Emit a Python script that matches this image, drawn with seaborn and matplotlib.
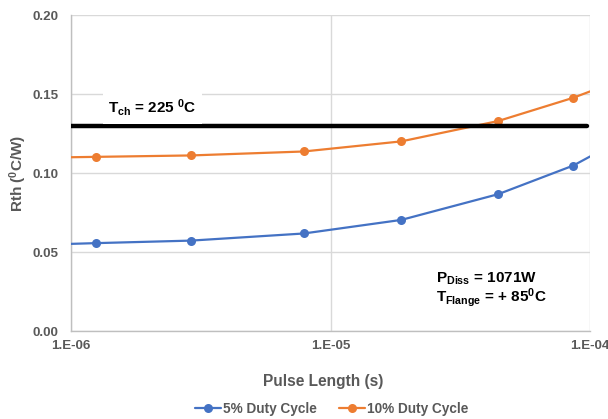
import pandas as pd
import matplotlib
matplotlib.use("Agg")
import matplotlib.pyplot as plt
import seaborn as sns

# pulse lengths (s); first and last points lie just outside the visible axis range
pulse = [5.3e-7, 1.245e-6, 2.90e-6, 7.88e-6, 1.874e-5, 4.43e-5, 8.62e-5, 2.0e-4]
rth_5 = [0.0540, 0.0558, 0.0574, 0.0619, 0.0705, 0.0868, 0.1049, 0.1373]
rth_10 = [0.1095, 0.1104, 0.1113, 0.1138, 0.1202, 0.1331, 0.1478, 0.1705]
series_names = ["5% Duty Cycle", "10% Duty Cycle"]
series_colors = ["#4472C4", "#ED7D31"]
t_channel_limit = 0.13

y_ticks = [0.00, 0.05, 0.10, 0.15, 0.20]
x_ticks = [1e-6, 1e-5, 1e-4]
x_tick_labels = ["1.E-06", "1.E-05", "1.E-04"]

df = pd.DataFrame({
    "pulse": pulse * 2,
    "rth": rth_5 + rth_10,
    "series": [series_names[0]] * len(pulse) + [series_names[1]] * len(pulse),
})

sns.set_theme(style="white")
plt.rcParams["font.family"] = ["Liberation Sans", "DejaVu Sans"]
plt.rcParams["mathtext.fontset"] = "custom"
plt.rcParams["mathtext.rm"] = "Liberation Sans:bold"
plt.rcParams["mathtext.it"] = "Liberation Sans:bold"
plt.rcParams["mathtext.bf"] = "Liberation Sans:bold"

gray = "#595959"
fig = plt.figure(figsize=(6.08, 4.19), dpi=100)
ax = fig.add_axes([0.1168, 0.2093, 0.8536, 0.7542])

sns.lineplot(data=df, x="pulse", y="rth", hue="series", hue_order=series_names,
             palette=series_colors, marker="o", markersize=6.5, markeredgewidth=0,
             linewidth=1.6, ax=ax, zorder=3)

ax.set_xscale("log")
ax.set_xlim(1e-6, 1e-4)
ax.set_ylim(0, 0.20)
ax.set_yticks(y_ticks)
ax.set_yticklabels([f"{v:.2f}" for v in y_ticks])
ax.set_xticks(x_ticks)
ax.set_xticklabels(x_tick_labels)
ax.minorticks_off()
ax.tick_params(length=0, labelsize=9.6, labelcolor=gray)
ax.tick_params(axis="y", pad=9)
ax.tick_params(axis="x", pad=6.5)
for lab in ax.get_xticklabels() + ax.get_yticklabels():
    lab.set_fontweight("bold")

ax.grid(True, color="#D9D9D9", linewidth=1.0)
for side in ["top", "right"]:
    ax.spines[side].set_visible(False)
for side in ["left", "bottom"]:
    ax.spines[side].set_color("#BFBFBF")
    ax.spines[side].set_linewidth(1.0)

ax.set_xlabel("Pulse Length (s)", fontsize=11.2, fontweight="bold", color=gray)
ax.xaxis.set_label_coords(0.4855, -0.135)
ax.set_ylabel(r"Rth ($^{0}$C/W)", fontsize=11, fontweight="bold", color=gray)
ax.yaxis.set_label_coords(-0.081, 0.50)

# channel temperature limit
ax.axhline(t_channel_limit, xmin=0, xmax=0.995, color="black", linewidth=3.2, zorder=4)
ax.text(1.39e-6, 0.1383, r"T$_{ch}$ = 225 $^{0}$C", fontsize=11, fontweight="bold",
        color="black", va="baseline", ha="left",
        bbox=dict(facecolor="white", edgecolor="none", pad=4), zorder=5)

ax.text(2.56e-5, 0.0308, r"P$_{Diss}$ = 1071W", fontsize=11, fontweight="bold",
        color="black", va="baseline", ha="left", zorder=5)
ax.text(2.56e-5, 0.0190, r"T$_{Flange}$ = + 85$^{0}$C", fontsize=11, fontweight="bold",
        color="black", va="baseline", ha="left", zorder=5)

handles, labels = ax.get_legend_handles_labels()
ax.get_legend().remove()
leg = fig.legend(handles, labels, loc="center", bbox_to_anchor=(0.5455, 0.024), ncol=2,
                 frameon=False, fontsize=9.8, handlelength=1.9, columnspacing=1.6,
                 handletextpad=0.15)
for t in leg.get_texts():
    t.set_color(gray)
    t.set_fontweight("bold")

fig.savefig("out.png", dpi=100)
